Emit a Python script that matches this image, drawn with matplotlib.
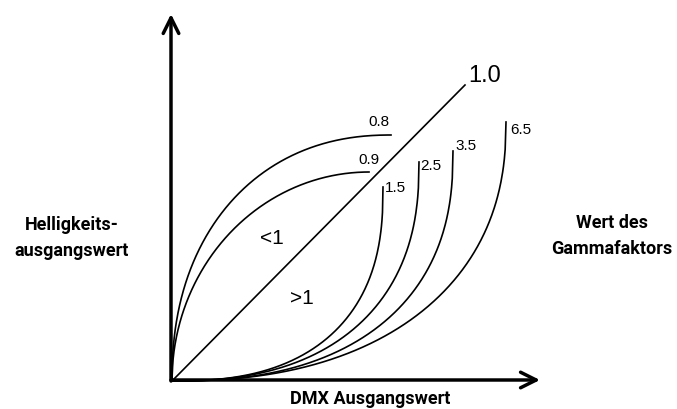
import numpy as np
import matplotlib.pyplot as plt

# gamma values and where each curve ends (x, y in chart units)
gamma_low = ["0.8", "0.9"]
low_end_x = [219, 197]
low_end_y = [246, 209]
low_shape = [2.2, 2.0]

gamma_high = ["1.5", "2.5", "3.5", "6.5"]
high_end_x = [211, 247, 281, 334]
high_end_y = [194, 219, 230, 259]
high_shape = [2.5, 2.4, 2.4, 2.3]

line_end = (293, 296)

fig = plt.figure(figsize=(6.77, 4.10), dpi=100)
ax = fig.add_axes([172/677, 28/410, 368/677, 367/410])
ax.set_xlim(0, 368)
ax.set_ylim(0, 367)
ax.axis('off')

t = np.linspace(0, 1, 400)

# curves with gamma < 1 (steep start, flat end)
for lab, xe, ye, n in zip(gamma_low, low_end_x, low_end_y, low_shape):
    y = (1 - (1 - t)**n)**(1/n)
    ax.plot(t*xe, y*ye, color='black', lw=1.2, clip_on=False)

# curves with gamma > 1 (flat start, steep end)
for lab, xe, ye, n in zip(gamma_high, high_end_x, high_end_y, high_shape):
    y = 1 - (1 - t**n)**(1/n)
    ax.plot(t*xe, y*ye, color='black', lw=1.2, clip_on=False)

# gamma = 1.0
ax.plot([0, line_end[0]], [0, line_end[1]], color='black', lw=1.2)

# axes with open arrow heads
arrow = dict(arrowstyle='->', lw=2.5, color='black', mutation_scale=28,
             shrinkA=0, shrinkB=0)
ax.annotate('', xy=(368, 1), xytext=(-1, 1), arrowprops=arrow, annotation_clip=False)
ax.annotate('', xy=(-1, 367), xytext=(-1, 0), arrowprops=arrow, annotation_clip=False)

# value labels
lab_font = dict(family='Liberation Sans', color='black')
ax.text(296, 300, "1.0", fontsize=17, **lab_font)
ax.text(196, 256, "0.8", fontsize=11, **lab_font)
ax.text(186, 218, "0.9", fontsize=11, **lab_font)
ax.text(213, 190, "1.5", fontsize=11, **lab_font)
ax.text(248, 212, "2.5", fontsize=11, **lab_font)
ax.text(283, 232, "3.5", fontsize=11, **lab_font)
ax.text(338, 248, "6.5", fontsize=11, **lab_font)
ax.text(88, 138, "<1", fontsize=15, **lab_font)
ax.text(118, 78, ">1", fontsize=15, **lab_font)

side_font = dict(family=['Roboto', 'DejaVu Sans'],
                 fontweight='bold', fontsize=13, ha='center', va='center')
fig.text(72/677, 1 - 238/410, "Helligkeits-\nausgangswert", linespacing=1.6, **side_font)
fig.text(612/677, 1 - 236/410, "Wert des\nGammafaktors", linespacing=1.6, **side_font)
fig.text(370/677, 1 - 399/410, "DMX Ausgangswert", **side_font)

fig.savefig('out.png', dpi=100)
